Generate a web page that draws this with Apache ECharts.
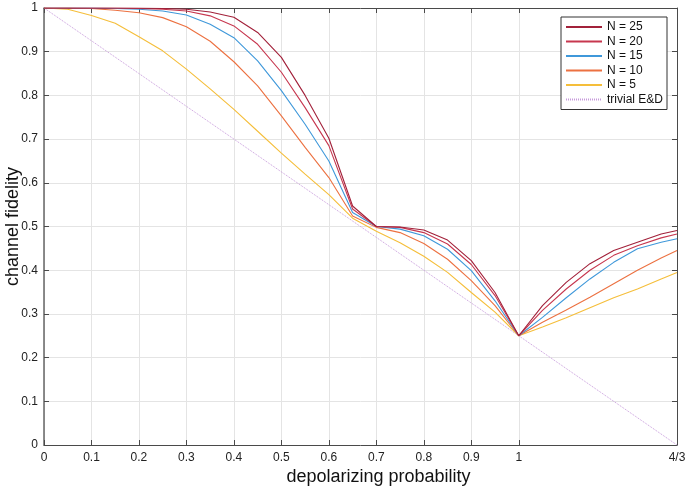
<!DOCTYPE html>
<html>
<head>
<meta charset="utf-8">
<script src="https://cdn.jsdelivr.net/npm/echarts@6/dist/echarts.min.js"></script>
<style>html,body{margin:0;padding:0;background:#fff;}#c{width:685px;height:489px;}</style>
</head>
<body>
<div id="c"></div>
<script>
// depolarizing probability sample points
const pValues = [0, 0.05, 0.1, 0.15, 0.2, 0.25, 0.3, 0.35, 0.4, 0.45, 0.5, 0.55, 0.6, 0.65, 0.7, 0.75, 0.8, 0.85, 0.9, 0.95, 1, 1.05, 1.1, 1.15, 1.2, 1.25, 1.3, 4/3];
const fidN25 = [1, 1, 1, 1, 1, 0.999, 0.997, 0.991, 0.979, 0.944, 0.887, 0.800, 0.702, 0.547, 0.500, 0.499, 0.492, 0.469, 0.422, 0.349, 0.25, 0.319, 0.372, 0.415, 0.445, 0.464, 0.483, 0.491];
const fidN20 = [1, 1, 1, 1, 0.999, 0.997, 0.993, 0.982, 0.959, 0.917, 0.853, 0.772, 0.685, 0.540, 0.500, 0.498, 0.486, 0.460, 0.413, 0.342, 0.25, 0.308, 0.357, 0.400, 0.434, 0.456, 0.474, 0.483];
const fidN15 = [1, 1, 1, 0.999, 0.997, 0.993, 0.984, 0.963, 0.932, 0.879, 0.811, 0.734, 0.650, 0.532, 0.500, 0.494, 0.479, 0.448, 0.399, 0.330, 0.25, 0.292, 0.337, 0.380, 0.418, 0.449, 0.464, 0.472];
const fidN10 = [1, 1, 0.999, 0.995, 0.989, 0.978, 0.957, 0.924, 0.877, 0.822, 0.753, 0.681, 0.612, 0.524, 0.498, 0.486, 0.461, 0.425, 0.376, 0.319, 0.25, 0.281, 0.309, 0.338, 0.369, 0.400, 0.428, 0.445];
const fidN5  = [1, 0.997, 0.983, 0.965, 0.934, 0.902, 0.860, 0.815, 0.768, 0.718, 0.668, 0.620, 0.573, 0.519, 0.489, 0.463, 0.432, 0.395, 0.349, 0.304, 0.25, 0.270, 0.291, 0.314, 0.337, 0.357, 0.380, 0.395];
const trivialP = [0, 4/3];
const trivialF = [1, 0];
const xTickValues = [0, 0.1, 0.2, 0.3, 0.4, 0.5, 0.6, 0.7, 0.8, 0.9, 1, 4/3];
const xTickLabels = ['0', '0.1', '0.2', '0.3', '0.4', '0.5', '0.6', '0.7', '0.8', '0.9', '1', '4/3'];
const seriesNames = ['N = 25', 'N = 20', 'N = 15', 'N = 10', 'N = 5', 'trivial E&D'];

const colors = ['#A2213A', '#C7374F', '#3F98DA', '#EC7141', '#F5BE3A', '#C79BDB'];
const font = 'Liberation Sans, Arial, Helvetica, sans-serif';
const zip = (xs, ys) => xs.map((x, i) => [x, ys[i]]);
const allData = [fidN25, fidN20, fidN15, fidN10, fidN5];

function labelFor(v) {
  for (let i = 0; i < xTickValues.length; i++) if (Math.abs(xTickValues[i] - v) < 1e-6) return xTickLabels[i];
  return '';
}

const axisLineStyle = { color: '#4a4a4a', width: 1 };
const chart = echarts.init(document.getElementById('c'), null, { renderer: 'canvas' });
const series = allData.map((d, i) => ({
  name: seriesNames[i], type: 'line', data: zip(pValues, d), showSymbol: false, symbol: 'none',
  lineStyle: { color: colors[i], width: 1.1 }, itemStyle: { color: colors[i] }, z: 10 - i, animation: false
}));
series.push({
  name: seriesNames[5], type: 'line', data: zip(trivialP, trivialF), showSymbol: false, symbol: 'none',
  lineStyle: { color: colors[5], width: 1, type: [1, 1] }, itemStyle: { color: colors[5] }, z: 2, animation: false
});

chart.setOption({
  animation: false,
  backgroundColor: '#fff',
  textStyle: { fontFamily: font },
  grid: { left: 44, right: 8, top: 8, bottom: 44, containLabel: false, outerBoundsMode: 'none' },
  legend: {
    orient: 'vertical', left: 561, top: 17, padding: [4, 4, 4, 4],
    itemWidth: 36, itemHeight: 12, itemGap: 2.5,
    backgroundColor: '#fff', borderColor: '#333', borderWidth: 1,
    itemStyle: { opacity: 0 },
    textStyle: { fontFamily: font, fontSize: 12, color: '#111' },
    data: seriesNames
  },
  xAxis: [{
    type: 'value', min: 0, max: 4/3, position: 'bottom',
    name: 'depolarizing probability', nameLocation: 'middle', nameGap: 23, nameMoveOverlap: false,
    nameTextStyle: { fontFamily: font, fontSize: 18, color: '#111', padding: [0, 0, 0, 36] },
    axisLine: { show: true, onZero: false, lineStyle: axisLineStyle },
    axisTick: { show: true, inside: true, length: 5, customValues: xTickValues, lineStyle: axisLineStyle },
    axisLabel: { customValues: xTickValues, formatter: labelFor, fontFamily: font, fontSize: 12, color: '#222', margin: 7 },
    splitLine: { show: true, lineStyle: { color: '#e4e4e4', width: 1 } }
  }, {
    type: 'value', min: 0, max: 4/3, position: 'top',
    axisLine: { show: true, onZero: false, lineStyle: axisLineStyle },
    axisTick: { show: true, inside: true, length: 5, customValues: xTickValues, lineStyle: axisLineStyle },
    axisLabel: { show: false }, splitLine: { show: false }
  }],
  yAxis: [{
    type: 'value', min: 0, max: 1, interval: 0.1, position: 'left',
    name: 'channel fidelity', nameLocation: 'middle', nameGap: 22, nameMoveOverlap: false,
    nameTextStyle: { fontFamily: font, fontSize: 18, color: '#111' },
    axisLine: { show: true, onZero: false, lineStyle: { color: '#666', width: 1.5 } },
    axisTick: { show: true, inside: true, length: 5, lineStyle: axisLineStyle },
    axisLabel: { fontFamily: font, fontSize: 12, color: '#222', margin: 6 },
    splitLine: { show: true, lineStyle: { color: '#e4e4e4', width: 1 } }
  }, {
    type: 'value', min: 0, max: 1, interval: 0.1, position: 'right',
    axisLine: { show: true, onZero: false, lineStyle: axisLineStyle },
    axisTick: { show: true, inside: true, length: 5, lineStyle: axisLineStyle },
    axisLabel: { show: false }, splitLine: { show: false }
  }],
  series: series
});
</script>
</body>
</html>
